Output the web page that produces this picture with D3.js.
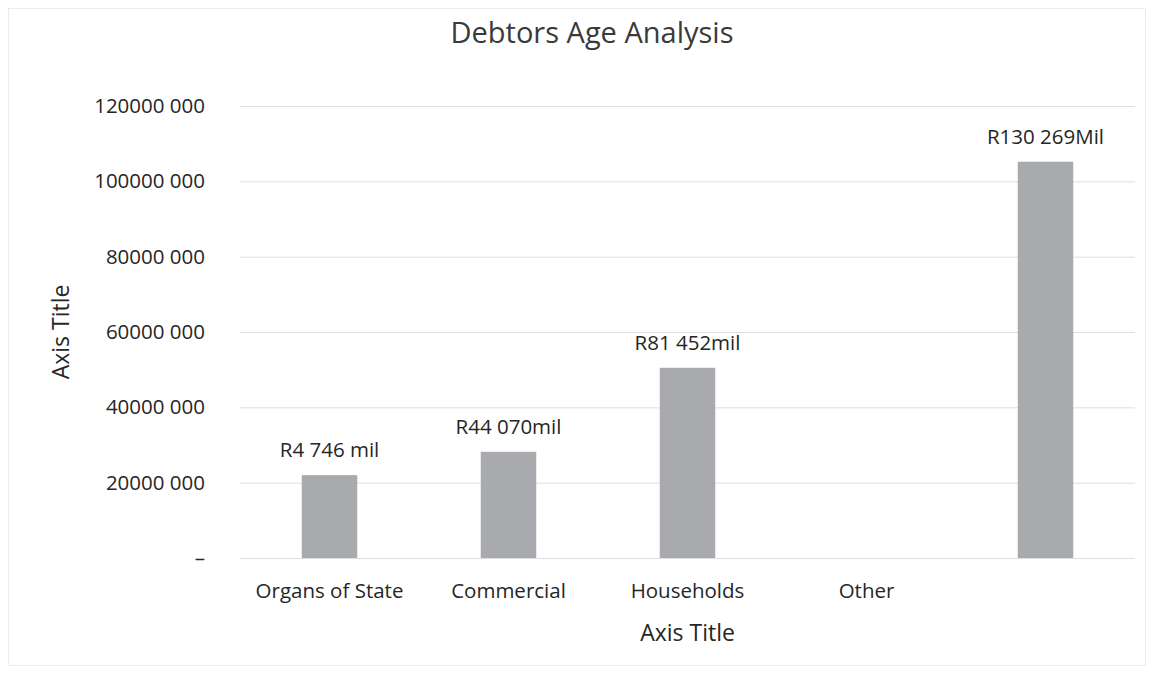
<!DOCTYPE html>
<html>
<head>
<meta charset="utf-8">
<script src="https://cdn.jsdelivr.net/npm/d3@7"></script>
<style>
  body { margin: 0; background: #fff; }
  text { font-family: "Open Sans", "Noto Sans", sans-serif; fill: #262626; }
</style>
</head>
<body>
<div id="chart"></div>
<script>
const categories = ['Organs of State', 'Commercial', 'Households', 'Other', ''];
const values = [22000000, 28200000, 50500000, 0, 105200000];
const dataLabels = ['R4 746 mil', 'R44 070mil', 'R81 452mil', '', 'R130 269Mil'];
const yTicks = [0, 20000000, 40000000, 60000000, 80000000, 100000000, 120000000];

const width = 1154, height = 674;
const margin = { top: 106, right: 19, bottom: 116, left: 240 };
const innerW = width - margin.left - margin.right;
const innerH = height - margin.top - margin.bottom;

const svg = d3.select('#chart').append('svg')
  .attr('width', width)
  .attr('height', height);

svg.append('rect')
  .attr('x', 8.5).attr('y', 8.5)
  .attr('width', width - 17).attr('height', height - 17)
  .attr('fill', '#fff')
  .attr('stroke', '#ececec');

const g = svg.append('g').attr('transform', `translate(${margin.left},${margin.top})`);

const x = d3.scaleBand().domain(d3.range(categories.length)).range([0, innerW]).paddingInner(0.69).paddingOuter(0.345);
const y = d3.scaleLinear().domain([0, 120000000]).range([innerH, 0]);

// gridlines
g.append('g')
  .selectAll('line')
  .data(yTicks)
  .enter().append('line')
  .attr('x1', 0).attr('x2', innerW)
  .attr('y1', d => y(d) + 0.5).attr('y2', d => y(d) + 0.5)
  .attr('stroke', '#dedede');

// y axis labels
const fmt = d => d === 0 ? '–' : (d / 1000 | 0) + ' 000';
const yAxis = g.append('g')
  .call(d3.axisLeft(y).tickValues(yTicks).tickFormat(fmt).tickSize(0).tickPadding(35));
yAxis.select('.domain').remove();
yAxis.selectAll('text')
  .style('font-size', '20.5px')
  .style('fill', '#262626')
  .style('font-family', '"Open Sans", "Noto Sans", sans-serif');

// bars
g.append('g')
  .selectAll('rect')
  .data(values)
  .enter().append('rect')
  .attr('x', (d, i) => x(i))
  .attr('y', d => y(d))
  .attr('width', x.bandwidth())
  .attr('height', d => innerH - y(d))
  .attr('fill', '#a8aaad');

// data labels
g.append('g')
  .selectAll('text')
  .data(values)
  .enter().append('text')
  .attr('x', (d, i) => x(i) + x.bandwidth() / 2)
  .attr('y', d => y(d) - 18)
  .attr('text-anchor', 'middle')
  .style('font-size', '20.5px')
  .text((d, i) => dataLabels[i]);

// category labels
g.append('g')
  .selectAll('text')
  .data(categories)
  .enter().append('text')
  .attr('x', (d, i) => x(i) + x.bandwidth() / 2)
  .attr('y', innerH + 40)
  .attr('text-anchor', 'middle')
  .style('font-size', '20.5px')
  .text(d => d);

// titles
svg.append('text')
  .attr('x', 592)
  .attr('y', 43)
  .attr('text-anchor', 'middle')
  .style('font-size', '29px')
  .style('fill', '#3a3a3a')
  .text('Debtors Age Analysis');

svg.append('text')
  .attr('x', margin.left + innerW / 2)
  .attr('y', 641)
  .attr('text-anchor', 'middle')
  .style('font-size', '23px')
  .text('Axis Title');

svg.append('text')
  .attr('transform', `translate(69,${margin.top + innerH / 2}) rotate(-90)`)
  .attr('text-anchor', 'middle')
  .style('font-size', '23px')
  .text('Axis Title');
</script>
</body>
</html>
